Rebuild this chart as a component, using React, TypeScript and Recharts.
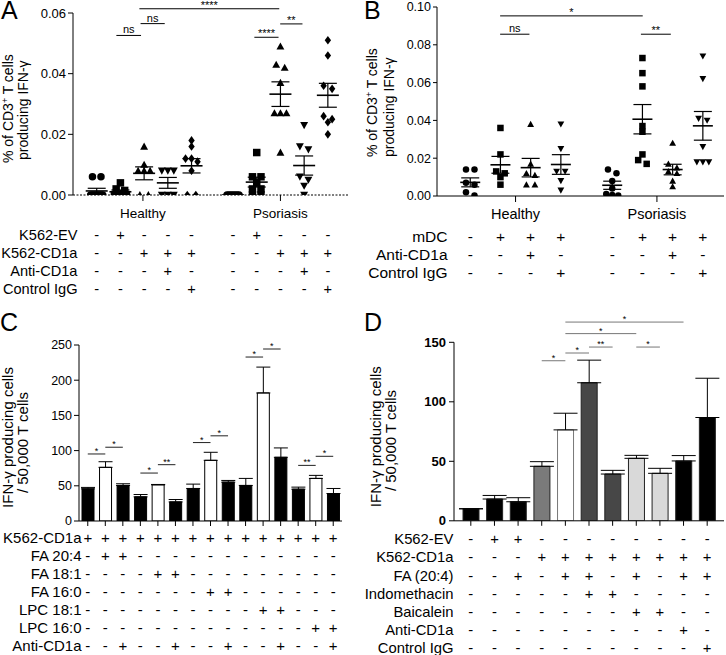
import React from 'react';
import {
  ScatterChart,
  Scatter,
  BarChart,
  Bar,
  Cell,
  XAxis,
  YAxis,
  ReferenceLine,
  ErrorBar,
} from 'recharts';

const FONT = '"Liberation Sans", Arial, Helvetica, sans-serif';

// ---------- A: healthy vs psoriasis, K562 co-culture ----------
const aPositions = [1, 2, 3, 4, 5, 6.75, 7.75, 8.75, 9.75, 10.75];
const aMarkers = ['circle', 'square', 'triangle', 'triangleDown', 'diamond', 'circle', 'square', 'triangle', 'triangleDown', 'diamond'];
const aValues = [
  [0.006, 0.006, 0, 0, 0, 0, 0, 0, 0],
  [0.004, 0.002, 0.0015, 0, 0, 0, 0],
  [0.016, 0.01, 0.008, 0.008, 0.008, 0, 0],
  [0.008, 0.008, 0.008, 0, 0, 0],
  [0.018, 0.016, 0.012, 0.012, 0.011, 0.008, 0, 0],
  [0, 0, 0, 0, 0, 0, 0],
  [0.014, 0.006, 0.006, 0.004, 0.002, 0.002, 0, 0],
  [0.049, 0.043, 0.042, 0.037, 0.027, 0.027, 0.027, 0.014],
  [0.023, 0.016, 0.015, 0.006, 0.005, 0.003, 0],
  [0.051, 0.046, 0.036, 0.035, 0.026, 0.025, 0.024, 0.02],
];
const aGroupTicks = [2.95, 8.75];
const aGroupLabels = ['Healthy', 'Psoriasis'];
const aYTicks = [0, 0.02, 0.04, 0.06];
const aRowLabels = ['K562-EV', 'K562-CD1a', 'Anti-CD1a', 'Control IgG'];
const aRows = [
  ['-', '+', '-', '-', '-', '-', '+', '-', '-', '-'],
  ['-', '-', '+', '+', '+', '-', '-', '+', '+', '+'],
  ['-', '-', '-', '+', '-', '-', '-', '-', '+', '-'],
  ['-', '-', '-', '-', '+', '-', '-', '-', '-', '+'],
];
const aBrackets = [
  { from: 1.83, to: 2.87, y: 0.0526, text: 'ns' },
  { from: 2.85, to: 3.87, y: 0.0565, text: 'ns' },
  { from: 2.8, to: 8.7, y: 0.0614, text: '****' },
  { from: 7.65, to: 8.67, y: 0.052, text: '****' },
  { from: 8.74, to: 9.68, y: 0.0564, text: '**' },
];

// ---------- B: mDC co-culture ----------
const bPositions = [1.1, 2.1, 3.1, 4.1, 5.8, 6.8, 7.8, 8.8];
const bMarkers = ['circle', 'square', 'triangle', 'triangleDown', 'circle', 'square', 'triangle', 'triangleDown'];
const bValues = [
  [0.014, 0.014, 0.007, 0.006, 0.002, 0.0003],
  [0.036, 0.022, 0.013, 0.012, 0.01, 0.006],
  [0.038, 0.017, 0.012, 0.011, 0.006, 0.006],
  [0.038, 0.025, 0.013, 0.013, 0.008, 0.003],
  [0.014, 0.012, 0.008, 0.004, 0.001, 0.0005, 0.0003],
  [0.073, 0.065, 0.058, 0.037, 0.034, 0.022, 0.019, 0.017],
  [0.028, 0.017, 0.015, 0.013, 0.012, 0.008, 0.005],
  [0.074, 0.062, 0.041, 0.04, 0.026, 0.018, 0.018, 0.018],
];
const bGroupTicks = [2.6, 7.28];
const bGroupLabels = ['Healthy', 'Psoriasis'];
const bYTicks = [0, 0.02, 0.04, 0.06, 0.08, 0.1];
const bRowLabels = ['mDC', 'Anti-CD1a', 'Control IgG'];
const bRows = [
  ['-', '+', '+', '+', '-', '+', '+', '+'],
  ['-', '-', '+', '-', '-', '-', '+', '-'],
  ['-', '-', '-', '+', '-', '-', '-', '+'],
];
const bBrackets = [
  { from: 2.09, to: 6.81, y: 0.0953, text: '*' },
  { from: 2.09, to: 3.06, y: 0.0856, text: 'ns' },
  { from: 6.75, to: 7.74, y: 0.0856, text: '**' },
];

// ---------- C: lipid loading ----------
const cValues = [45.7, 76.2, 50.5, 34.3, 51.4, 27.1, 46.2, 86.2, 55.2, 50.5, 181.9, 90.5, 45.2, 60.5, 39];
const cErrors = [2, 8, 2.4, 3.3, 0.5, 3.4, 6.2, 11.4, 2.4, 10, 36.7, 13.3, 2.9, 4.3, 7.2];
const cYTicks = [0, 50, 100, 150, 200, 250];
const cRowLabels = ['K562-CD1a', 'FA 20:4', 'FA 18:1', 'FA 16:0', 'LPC 18:1', 'LPC 16:0', 'Anti-CD1a'];
const cRows = [
  ['+', '+', '+', '+', '+', '+', '+', '+', '+', '+', '+', '+', '+', '+', '+'],
  ['-', '+', '+', '-', '-', '-', '-', '-', '-', '-', '-', '-', '-', '-', '-'],
  ['-', '-', '-', '-', '+', '+', '-', '-', '-', '-', '-', '-', '-', '-', '-'],
  ['-', '-', '-', '-', '-', '-', '-', '+', '+', '-', '-', '-', '-', '-', '-'],
  ['-', '-', '-', '-', '-', '-', '-', '-', '-', '-', '+', '+', '-', '-', '-'],
  ['-', '-', '-', '-', '-', '-', '-', '-', '-', '-', '-', '-', '-', '+', '+'],
  ['-', '-', '+', '-', '-', '+', '-', '-', '+', '-', '-', '+', '-', '-', '+'],
];
const cBrackets = [
  { a: 0, b: 1, y: 95.2, text: '*' },
  { a: 1, b: 2, y: 104.8, text: '*' },
  { a: 3, b: 4, y: 68.1, text: '*' },
  { a: 4, b: 5, y: 80, text: '**' },
  { a: 6, b: 7, y: 111.4, text: '*' },
  { a: 7, b: 8, y: 121, text: '*' },
  { a: 9, b: 10, y: 232.9, text: '*' },
  { a: 10, b: 11, y: 244.3, text: '*' },
  { a: 12, b: 13, y: 79, text: '**' },
  { a: 13, b: 14, y: 91.9, text: '*' },
];
const cFills = ['#000', '#fff', '#000', '#000', '#fff', '#000', '#000', '#fff', '#000', '#000', '#fff', '#000', '#000', '#fff', '#000'];

// ---------- D: inhibitors ----------
const dValues = [10.1, 18.3, 16, 45.8, 76.4, 116, 39.3, 52.5, 39.9, 50.3, 86.8];
const dErrors = [0, 3, 3.4, 3.9, 14, 19, 3.1, 2.5, 4.2, 4.5, 33];
const dYTicks = [0, 50, 100, 150];
const dRowLabels = ['K562-EV', 'K562-CD1a', 'FA (20:4)', 'Indomethacin', 'Baicalein', 'Anti-CD1a', 'Control IgG'];
const dRows = [
  ['-', '+', '+', '-', '-', '-', '-', '-', '-', '-', '-'],
  ['-', '-', '-', '+', '+', '+', '+', '+', '+', '+', '+'],
  ['-', '-', '+', '-', '+', '+', '-', '+', '-', '+', '+'],
  ['-', '-', '-', '-', '-', '+', '+', '-', '-', '-', '-'],
  ['-', '-', '-', '-', '-', '-', '-', '+', '+', '-', '-'],
  ['-', '-', '-', '-', '-', '-', '-', '-', '-', '+', '-'],
  ['-', '-', '-', '-', '-', '-', '-', '-', '-', '-', '+'],
];
const dBrackets = [
  { a: 3, b: 4, y: 134.5, text: '*' },
  { a: 4, b: 5, y: 141, text: '*' },
  { a: 5, b: 6, y: 146, text: '**' },
  { a: 7, b: 8, y: 146, text: '*' },
  { a: 4, b: 7, y: 157.3, text: '*' },
  { a: 4, b: 9, y: 167, text: '*' },
];
const dFills = ['#000', '#000', '#000', '#7a7a7a', '#fff', '#474747', '#474747', '#d9d9d9', '#d9d9d9', '#000', '#000'];

const cIds = cValues.map((_, i) => `c${i + 1}`);
const dIds = dValues.map((_, i) => `d${i + 1}`);
const cData = cValues.map((v, i) => ({ id: cIds[i], value: v, errRange: [0, cErrors[i]] }));
const dData = dValues.map((v, i) => ({ id: dIds[i], value: v, errRange: [0, dErrors[i]] }));

// spread overlapping points sideways, like Prism does
function spreadPoints(values: number[], pos: number, tol: number, pxPerUnit: number) {
  const sorted = [...values].sort((p, q) => q - p);
  const clusters: number[][] = [];
  sorted.forEach((v) => {
    const last = clusters[clusters.length - 1];
    if (last && last[0] - v < tol) last.push(v);
    else clusters.push([v]);
  });
  const pts: { x: number; y: number }[] = [];
  clusters.forEach((c) => {
    const n = c.length;
    const w = n > 1 ? Math.min((n - 1) * 8.5, 12) : 0;
    c.forEach((v, i) => {
      const off = n > 1 ? (i / (n - 1) - 0.5) * w : 0;
      pts.push({ x: pos + off / pxPerUnit, y: v });
    });
  });
  return pts;
}

function meanSem(values: number[]) {
  const n = values.length;
  const mean = values.reduce((s, v) => s + v, 0) / n;
  const sd = Math.sqrt(values.reduce((s, v) => s + (v - mean) ** 2, 0) / (n - 1));
  return { y: mean, err: sd / Math.sqrt(n) };
}

function Marker({ cx, cy, kind, size }: any) {
  const r = size / 2;
  if (cx == null || cy == null) return null;
  switch (kind) {
    case 'circle':
      return <circle cx={cx} cy={cy} r={r} fill="#000" />;
    case 'square':
      return <rect x={cx - r} y={cy - r} width={size} height={size} fill="#000" />;
    case 'triangle':
      return <polygon points={`${cx},${cy - r * 1.05} ${cx + r * 1.05},${cy + r * 0.85} ${cx - r * 1.05},${cy + r * 0.85}`} fill="#000" />;
    case 'triangleDown':
      return <polygon points={`${cx},${cy + r * 1.05} ${cx + r * 1.05},${cy - r * 0.85} ${cx - r * 1.05},${cy - r * 0.85}`} fill="#000" />;
    default:
      return <polygon points={`${cx},${cy - r * 1.15} ${cx + r * 0.85},${cy} ${cx},${cy + r * 1.15} ${cx - r * 0.85},${cy}`} fill="#000" />;
  }
}

function RowTick(props: any) {
  const { x, y, index, symbols, label, labelX, fontSize } = props;
  return (
    <g>
      <text x={x} y={y} dy="0.71em" textAnchor="middle" fontSize={fontSize} fontFamily={FONT} fill="#000">
        {symbols[index] ?? ''}
      </text>
      {index === 0 ? (
        <text x={labelX} y={y} dy="0.71em" textAnchor="end" fontSize={fontSize} fontFamily={FONT} fill="#000">
          {label}
        </text>
      ) : null}
    </g>
  );
}

function DotPanel({
  width, height, margin, domain, positions, markers, values, groupTicks, groupLabels, yTicks, yDomain,
  rows, rowLabels, labelX, brackets, yWidth, tol, pxPerUnit, markerSize, meanHalf, capWidth,
  tickFont, groupFont, tableFont, dashedAxis, yTickSize,
}: any) {
  return (
    <ScatterChart width={width} height={height} margin={margin}>
      <XAxis
        xAxisId="main" type="number" dataKey="x" domain={domain} allowDataOverflow
        ticks={groupTicks} interval={0}
        tickFormatter={(v: number) => groupLabels[groupTicks.indexOf(v)]}
        height={30} tickSize={6} tickMargin={7}
        axisLine={dashedAxis ? { stroke: '#000', strokeDasharray: '2 1.5' } : { stroke: '#000' }}
        tickLine={{ stroke: '#000' }}
        tick={{ fill: '#000', fontSize: groupFont, fontFamily: FONT }}
      />
      {rows.map((row: string[], r: number) => (
        <XAxis
          key={r} xAxisId={`row${r}`} type="number" dataKey="x" domain={domain} allowDataOverflow
          ticks={positions} interval={0} height={18} tickSize={0} tickMargin={5}
          axisLine={false} tickLine={false}
          tick={<RowTick symbols={row} label={rowLabels[r]} labelX={labelX} fontSize={tableFont} />}
        />
      ))}
      <YAxis
        type="number" dataKey="y" domain={yDomain} allowDataOverflow ticks={yTicks} interval={0}
        tickFormatter={(v: number) => v.toFixed(2)} width={yWidth} tickSize={yTickSize} tickMargin={2}
        axisLine={{ stroke: '#000' }} tickLine={{ stroke: '#000' }}
        tick={{ fill: '#000', fontSize: tickFont, fontFamily: FONT }}
      />
      {values.map((vals: number[], i: number) => (
        <Scatter
          key={i} xAxisId="main" isAnimationActive={false}
          data={spreadPoints(vals, positions[i], tol, pxPerUnit)}
          shape={(p: any) => <Marker cx={p.cx} cy={p.cy} kind={markers[i]} size={markerSize} />}
        />
      ))}
      <Scatter
        xAxisId="main" isAnimationActive={false}
        data={values.map((vals: number[], i: number) => ({ x: positions[i], ...meanSem(vals) }))}
        shape={(p: any) => (
          <line x1={p.cx - meanHalf} x2={p.cx + meanHalf} y1={p.cy} y2={p.cy} stroke="#000" strokeWidth={1.6} />
        )}
      >
        <ErrorBar dataKey="err" direction="y" width={capWidth} stroke="#000" strokeWidth={1.2} />
      </Scatter>
      {brackets.map((b: any, i: number) => (
        <ReferenceLine
          key={i} xAxisId="main" ifOverflow="visible"
          segment={[{ x: b.from, y: b.y }, { x: b.to, y: b.y }]}
          stroke="#000" strokeWidth={1}
          label={{ value: b.text, position: 'top', offset: b.text === 'ns' ? 2 : 0, fill: '#000', fontSize: 11, fontFamily: FONT }}
        />
      ))}
    </ScatterChart>
  );
}

function BarPanel({
  width, height, margin, data, ids, fills, strokes, rows, rowLabels, labelX, yTicks, yDomain, yWidth,
  brackets, bracketColor, barSize, capWidth, padding, mainHeight, mainMargin, rowHeight, tableFont,
  tickFont, tickBold, tickMargin,
}: any) {
  return (
    <BarChart width={width} height={height} margin={margin} data={data}>
      <XAxis
        xAxisId="main" dataKey="id" interval={0} height={mainHeight} tickSize={5} tickMargin={mainMargin}
        padding={padding} axisLine={{ stroke: '#000' }} tickLine={{ stroke: '#000' }}
        tick={<RowTick symbols={rows[0]} label={rowLabels[0]} labelX={labelX} fontSize={tableFont} />}
      />
      {rows.slice(1).map((row: string[], r: number) => (
        <XAxis
          key={r} xAxisId={`row${r}`} dataKey="id" interval={0} height={rowHeight} tickSize={0} tickMargin={5}
          padding={padding} axisLine={false} tickLine={false}
          tick={<RowTick symbols={row} label={rowLabels[r + 1]} labelX={labelX} fontSize={tableFont} />}
        />
      ))}
      <YAxis
        type="number" domain={yDomain} allowDataOverflow ticks={yTicks} interval={0} width={yWidth}
        tickSize={5} tickMargin={tickMargin} axisLine={{ stroke: '#000' }} tickLine={{ stroke: '#000' }}
        tick={{ fill: '#000', fontSize: tickFont, fontFamily: FONT, fontWeight: tickBold ? 'bold' : 'normal' }}
      />
      <Bar xAxisId="main" dataKey="value" barSize={barSize} isAnimationActive={false} strokeWidth={1}>
        {data.map((_: any, i: number) => (
          <Cell key={i} fill={fills[i]} stroke={strokes[i]} />
        ))}
        <ErrorBar dataKey="errRange" direction="y" width={capWidth} stroke="#000" strokeWidth={1} />
      </Bar>
      {brackets.map((b: any, i: number) => (
        <ReferenceLine
          key={i} xAxisId="main" ifOverflow="visible"
          segment={[{ x: ids[b.a], y: b.y }, { x: ids[b.b], y: b.y }]}
          stroke={bracketColor} strokeWidth={1}
          label={{ value: b.text, position: 'top', offset: 0, fill: '#000', fontSize: 9, fontFamily: FONT }}
        />
      ))}
    </BarChart>
  );
}

function VTitle({ x, y, anchor, text, size, sup }: any) {
  return (
    <text transform={`translate(${x},${y}) rotate(-90)`} textAnchor={anchor} fontSize={size} fontFamily={FONT} fill="#000">
      {sup ? (
        <>
          {text[0]}
          <tspan dy={-5} fontSize={size * 0.62}>+</tspan>
          <tspan dy={5}>{text[1]}</tspan>
        </>
      ) : (
        text
      )}
    </text>
  );
}

export default function App() {
  return (
    <div style={{ position: 'absolute', left: 0, top: 0, width: 726, height: 655, overflow: 'hidden', background: '#fff' }}>
      <div style={{ position: 'absolute', left: 0, top: 0 }}>
        <DotPanel
          width={363} height={300} margin={{ top: 13, right: 15, bottom: 3, left: 0 }} domain={[0, 11.6]}
          positions={aPositions} markers={aMarkers} values={aValues} groupTicks={aGroupTicks}
          groupLabels={aGroupLabels} yTicks={aYTicks} yDomain={[0, 0.06]} rows={aRows} rowLabels={aRowLabels}
          labelX={77.5} brackets={aBrackets} yWidth={73} tol={0.0017} pxPerUnit={23.7} markerSize={7.5}
          meanHalf={11} capWidth={9} tickFont={13} groupFont={13.5} tableFont={14.6} dashedAxis yTickSize={5}
        />
      </div>
      <div style={{ position: 'absolute', left: 363, top: 0 }}>
        <DotPanel
          width={363} height={283} margin={{ top: 7, right: 2, bottom: 3, left: 0 }} domain={[0, 9.5]}
          positions={bPositions} markers={bMarkers} values={bValues} groupTicks={bGroupTicks}
          groupLabels={bGroupLabels} yTicks={bYTicks} yDomain={[0, 0.1]} rows={bRows} rowLabels={bRowLabels}
          labelX={84.5} brackets={bBrackets} yWidth={74} tol={0.0026} pxPerUnit={30.2} markerSize={6.5}
          meanHalf={10} capWidth={9} tickFont={12.5} groupFont={14.5} tableFont={15.5} dashedAxis={false} yTickSize={4}
        />
      </div>
      <div style={{ position: 'absolute', left: 0, top: 310 }}>
        <BarPanel
          width={363} height={345} margin={{ top: 35, right: 21, bottom: 2, left: 0 }} data={cData} ids={cIds}
          fills={cFills} strokes={cFills.map(() => '#000')} rows={cRows} rowLabels={cRowLabels} labelX={81.5}
          yTicks={cYTicks} yDomain={[0, 250]} yWidth={79} brackets={cBrackets} bracketColor="#222"
          barSize={12} capWidth={7} padding={{ left: 0, right: 0 }} mainHeight={24} mainMargin={6}
          rowHeight={18} tableFont={15} tickFont={12.5} tickBold={false} tickMargin={2}
        />
      </div>
      <div style={{ position: 'absolute', left: 363, top: 310 }}>
        <BarPanel
          width={363} height={346} margin={{ top: 32.3, right: 2, bottom: 0, left: 0 }} data={dData} ids={dIds}
          fills={dFills} strokes={dFills.map((f) => (f === '#fff' ? '#777' : '#222'))} rows={dRows}
          rowLabels={dRowLabels} labelX={90.5} yTicks={dYTicks} yDomain={[0, 150]} yWidth={91}
          brackets={dBrackets} bracketColor="#777" barSize={16} capWidth={12} padding={{ left: 5, right: 5 }}
          mainHeight={26} mainMargin={7.4} rowHeight={18.2} tableFont={14.8} tickFont={13} tickBold tickMargin={3}
        />
      </div>
      <svg width={726} height={655} style={{ position: 'absolute', left: 0, top: 0, pointerEvents: 'none' }}>
        <g fontFamily={FONT} fontSize={25} fill="#000">
          <text x={1} y={19}>A</text>
          <text x={364} y={19}>B</text>
          <text x={0} y={331}>C</text>
          <text x={364} y={331}>D</text>
        </g>
        <VTitle x={12.5} y={163} anchor="start" size={14} sup text={['% of CD3', ' T cells']} />
        <VTitle x={27.5} y={160} anchor="start" size={14} text="producing IFN-γ" />
        <VTitle x={376.5} y={157} anchor="start" size={14} sup text={['% of CD3', ' T cells']} />
        <VTitle x={394} y={157} anchor="start" size={14} text="producing IFN-γ" />
        <VTitle x={12.5} y={437.5} anchor="middle" size={15} text="IFN-γ producing cells" />
        <VTitle x={27.5} y={442.5} anchor="middle" size={15} text="/ 50,000 T cells" />
        <VTitle x={380.5} y={436.7} anchor="middle" size={15} text="IFN-γ producing cells" />
        <VTitle x={395.5} y={440.5} anchor="middle" size={15} text="/ 50,000 T cells" />
      </svg>
    </div>
  );
}
